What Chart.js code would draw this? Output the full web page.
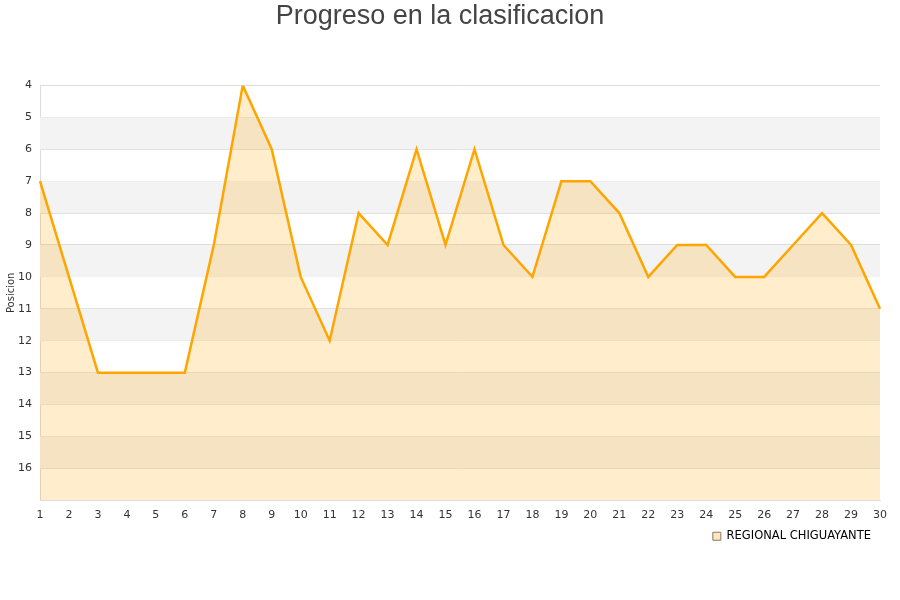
<!DOCTYPE html>
<html><head><meta charset="utf-8">
<script src="https://cdn.jsdelivr.net/npm/chart.js@4"></script>
<style>html,body{margin:0;padding:0;background:#fff}#w{width:900px;height:600px}</style>
</head><body><div id="w"><canvas id="c"></canvas></div>
<script>
const rounds = ["1","2","3","4","5","6","7","8","9","10","11","12","13","14","15","16","17","18","19","20","21","22","23","24","25","26","27","28","29","30"];
const positions = [7,10,13,13,13,13,9,4,6,10,12,8,9,6,9,6,9,10,7,7,8,10,9,9,10,10,9,8,9,11];
const yTicks = [4,5,6,7,8,9,10,11,12,13,14,15,16];
const teamName = "REGIONAL CHIGUAYANTE";

const bands = {
  id:'bands',
  beforeDatasetsDraw(chart){
    const {ctx, chartArea:a, scales:{y}} = chart;
    ctx.save();
    ctx.fillStyle = '#f3f3f3';
    for(let v=5; v<17; v+=2){
      const t = y.getPixelForValue(v), b = y.getPixelForValue(v+1);
      ctx.fillRect(a.left, t, a.right-a.left, b-t);
    }
    ctx.restore();
  }
};

new Chart(document.getElementById('c'), {
  type:'line',
  data:{labels:rounds, datasets:[{
    label:teamName, data:positions,
    borderColor:'#FFA500', backgroundColor:'rgba(255,165,0,0.2)',
    borderWidth:2.5, fill:{value:17}, pointRadius:0, tension:0
  }]},
  options:{
    responsive:true, maintainAspectRatio:false, animation:false,
    layout:{padding:{top:0,right:20,bottom:48,left:0}},
    plugins:{
      title:{display:true,text:'Progreso en la clasificacion',color:'#444',
        font:{family:'Liberation Sans, Arial',size:27,weight:'normal'},padding:{top:0,bottom:53}},
      legend:{position:'bottom',align:'end',
        labels:{boxWidth:8,boxHeight:8,color:'#111',font:{family:'DejaVu Sans',size:11.5},padding:9,
          generateLabels(chart){
            const ds = chart.data.datasets[0];
            return [{text:ds.label,fillStyle:'#fde6c0',strokeStyle:'#8a7a60',lineWidth:1,datasetIndex:0,hidden:false}];
          }}},
      tooltip:{enabled:false}
    },
    scales:{
      x:{offset:false,grid:{display:false},border:{color:'#ddd'},
        ticks:{color:'#333',font:{family:'DejaVu Sans',size:11},maxRotation:0,autoSkip:false,padding:0}},
      y:{reverse:true,min:4,max:17,
        afterFit(s){s.width=40;},
        afterBuildTicks(s){s.ticks=yTicks.concat([17]).map(v=>({value:v}));},
        grid:{color:'#ddd',drawTicks:false},border:{color:'#ddd'},
        title:{display:true,text:'Posicion',color:'#333',font:{family:'DejaVu Sans',size:10},padding:{top:5,bottom:0}},
        ticks:{color:'#333',font:{family:'DejaVu Sans',size:11},padding:8,
          callback:(v)=> v===17?'':String(v)}}
    }
  },
  plugins:[bands]
});
</script></body></html>
